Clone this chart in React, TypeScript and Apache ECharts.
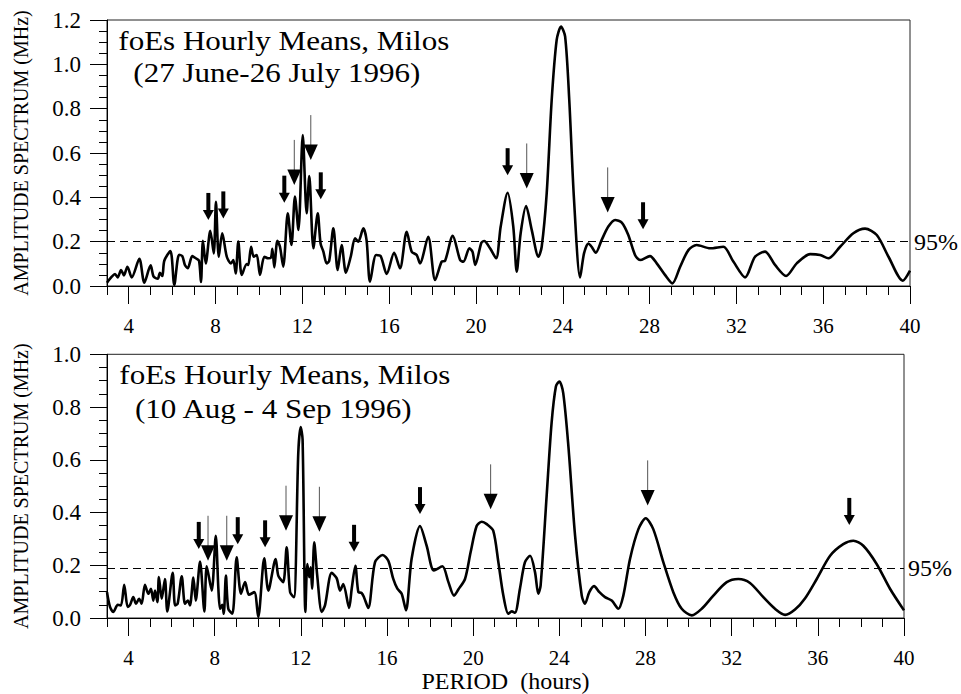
import React, { useEffect, useRef } from "react";
import * as echarts from "echarts";

// ---------- data ----------
const xMajorTicks = [4, 8, 12, 16, 20, 24, 28, 32, 36, 40];
const xMinorTicks = [3, 4, 5, 6, 7, 8, 9, 10, 11, 12, 13, 14, 15, 16, 17, 18, 19, 20, 21, 22, 23, 24, 25, 26, 27, 28, 29, 30, 31, 32, 33, 34, 35, 36, 37, 38, 39, 40];

const topTitle = ["foEs Hourly Means, Milos", "(27 June-26 July 1996)"];
const bottomTitle = ["foEs Hourly Means, Milos", "(10 Aug - 4 Sep 1996)"];
const yAxisName = "AMPLITUDE SPECTRUM (MHz)";
const xAxisName = "PERIOD  (hours)";
const confidenceLabel = "95%";
const confidenceLevels = [0.2, 0.193];
const yMax = [1.2, 1.0];

// [period (h), amplitude (MHz)]
const topSpectrum: [number, number][] = [
  [3.0, 0.015], [3.22, 0.042], [3.37, 0.054], [3.49, 0.039], [3.65, 0.072], [3.78, 0.048], [3.94, 0.087],
  [4.14, 0.039], [4.49, 0.123], [4.72, 0.015], [5.01, 0.093], [5.15, 0.042], [5.34, 0.033], [5.44, 0.06],
  [5.55, 0.045], [5.64, 0.114], [5.92, 0.158], [6.1, 0.005], [6.32, 0.141], [6.47, 0.135], [6.59, 0.095],
  [6.72, 0.08], [6.93, 0.135], [7.09, 0.125], [7.24, 0.114], [7.33, 0.018], [7.42, 0.204], [7.55, 0.102],
  [7.76, 0.249], [7.92, 0.147], [8.02, 0.38], [8.15, 0.132], [8.31, 0.238], [8.52, 0.132], [8.71, 0.102],
  [8.82, 0.117], [8.93, 0.057], [9.05, 0.2], [9.21, 0.05], [9.44, 0.099], [9.51, 0.095], [9.64, 0.177],
  [9.76, 0.132], [9.9, 0.14], [10.05, 0.05], [10.25, 0.132], [10.43, 0.125], [10.56, 0.129], [10.62, 0.168],
  [10.71, 0.084], [10.85, 0.204], [10.97, 0.177], [11.12, 0.087], [11.33, 0.328], [11.5, 0.185], [11.66, 0.403],
  [11.82, 0.253], [12.02, 0.681], [12.2, 0.328], [12.32, 0.496], [12.51, 0.17], [12.71, 0.328], [12.84, 0.192],
  [12.97, 0.155], [13.12, 0.102], [13.24, 0.114], [13.43, 0.26], [13.63, 0.072], [13.81, 0.185], [14.01, 0.06],
  [14.23, 0.132], [14.43, 0.215], [14.58, 0.2], [14.81, 0.26], [14.96, 0.207], [15.12, 0.019], [15.4, 0.14],
  [15.61, 0.135], [15.89, 0.054], [16.23, 0.15], [16.5, 0.08], [16.81, 0.245], [17.04, 0.155], [17.27, 0.14],
  [17.42, 0.102], [17.8, 0.222], [18.12, 0.027], [18.42, 0.11], [18.58, 0.114], [18.93, 0.226], [19.27, 0.117],
  [19.42, 0.11], [19.7, 0.17], [19.84, 0.155], [19.97, 0.095], [20.25, 0.195], [20.38, 0.203], [20.65, 0.17],
  [20.93, 0.125], [21.14, 0.268], [21.46, 0.421], [21.72, 0.268], [21.88, 0.065], [22.06, 0.238], [22.31, 0.361],
  [22.57, 0.253], [22.88, 0.132], [23.03, 0.177], [23.26, 0.418], [23.49, 0.839], [23.72, 1.11], [23.92, 1.17],
  [24.11, 1.125], [24.3, 0.839], [24.52, 0.388], [24.8, 0.039], [24.98, 0.147], [25.18, 0.192], [25.33, 0.177],
  [25.52, 0.15], [25.79, 0.207], [26.1, 0.268], [26.41, 0.298], [26.72, 0.286], [27.02, 0.23], [27.33, 0.14],
  [27.56, 0.117], [28.02, 0.135], [28.33, 0.102], [28.71, 0.05], [29.05, 0.012], [29.41, 0.087], [29.79, 0.162],
  [30.17, 0.185], [30.79, 0.17], [31.4, 0.177], [31.86, 0.11], [32.4, 0.039], [32.86, 0.132], [33.32, 0.155],
  [33.78, 0.095], [34.29, 0.045], [34.78, 0.102], [35.4, 0.144], [35.86, 0.14], [36.24, 0.125], [36.78, 0.177],
  [37.39, 0.238], [37.93, 0.259], [38.47, 0.23], [39.01, 0.132], [39.67, 0.024], [40.0, 0.069],
];

const bottomSpectrum: [number, number][] = [
  [3.0, 0.098], [3.14, 0.042], [3.29, 0.023], [3.5, 0.05], [3.65, 0.048], [3.8, 0.126], [3.96, 0.042],
  [4.07, 0.05], [4.22, 0.079], [4.35, 0.054], [4.49, 0.073], [4.61, 0.054], [4.76, 0.126], [4.92, 0.092],
  [5.04, 0.111], [5.15, 0.066], [5.23, 0.104], [5.34, 0.06], [5.41, 0.155], [5.54, 0.073], [5.69, 0.148],
  [5.8, 0.025], [6.05, 0.171], [6.16, 0.048], [6.28, 0.054], [6.47, 0.158], [6.62, 0.054], [6.75, 0.066],
  [6.85, 0.048], [7.01, 0.153], [7.12, 0.066], [7.32, 0.214], [7.52, 0.025], [7.63, 0.196], [7.86, 0.104],
  [8.05, 0.312], [8.17, 0.111], [8.25, 0.035], [8.35, 0.05], [8.42, 0.016], [8.52, 0.161], [8.63, 0.035],
  [8.82, 0.016], [9.02, 0.23], [9.22, 0.092], [9.41, 0.136], [9.59, 0.088], [9.84, 0.098], [10.02, 0.004],
  [10.3, 0.226], [10.49, 0.104], [10.83, 0.224], [10.95, 0.161], [11.18, 0.136], [11.34, 0.268], [11.5, 0.098],
  [11.68, 0.079], [11.88, 0.626], [11.99, 0.724], [12.08, 0.677], [12.21, 0.023], [12.3, 0.205], [12.39, 0.155],
  [12.46, 0.192], [12.52, 0.111], [12.62, 0.287], [12.76, 0.161], [12.97, 0.023], [13.12, 0.048], [13.43, 0.171],
  [13.66, 0.151], [13.82, 0.104], [13.97, 0.129], [14.24, 0.038], [14.36, 0.111], [14.53, 0.198], [14.67, 0.098],
  [14.82, 0.095], [14.93, 0.079], [15.13, 0.038], [15.44, 0.211], [15.8, 0.239], [16.06, 0.217], [16.29, 0.148],
  [16.48, 0.111], [16.68, 0.092], [16.88, 0.029], [17.14, 0.224], [17.53, 0.349], [17.84, 0.274], [18.18, 0.18],
  [18.57, 0.196], [18.85, 0.136], [19.11, 0.085], [19.31, 0.108], [19.62, 0.148], [19.88, 0.249], [20.16, 0.349],
  [20.4, 0.365], [20.63, 0.356], [20.93, 0.331], [21.17, 0.211], [21.4, 0.085], [21.63, 0.016], [21.79, 0.025],
  [21.94, 0.02], [22.17, 0.111], [22.4, 0.211], [22.64, 0.236], [22.87, 0.174], [23.02, 0.092], [23.13, 0.123],
  [23.41, 0.463], [23.64, 0.74], [23.84, 0.878], [24.0, 0.897], [24.18, 0.853], [24.42, 0.651], [24.73, 0.312],
  [25.04, 0.085], [25.19, 0.054], [25.39, 0.098], [25.61, 0.121], [25.86, 0.098], [26.12, 0.079], [26.43, 0.066],
  [26.74, 0.035], [26.97, 0.085], [27.28, 0.224], [27.67, 0.337], [28.01, 0.378], [28.36, 0.337], [28.83, 0.211],
  [29.29, 0.098], [29.68, 0.035], [30.15, 0.01], [30.61, 0.035], [31.15, 0.085], [31.77, 0.136], [32.31, 0.148],
  [32.85, 0.133], [33.47, 0.079], [34.01, 0.035], [34.48, 0.012], [34.94, 0.032], [35.41, 0.075], [35.95, 0.148],
  [36.57, 0.236], [37.18, 0.28], [37.65, 0.293], [38.11, 0.274], [38.73, 0.205], [39.35, 0.111], [40.0, 0.029],
];

// [period, amplitude at arrow tip, kind: 0 = thick short, 1 = thin long]
const topArrows: [number, number, number][] = [
  [7.67, 0.298, 0], [8.36, 0.305, 0], [11.17, 0.376, 0], [11.63, 0.456, 1], [12.39, 0.568, 1],
  [12.85, 0.391, 0], [21.46, 0.5, 0], [22.34, 0.44, 1], [26.07, 0.332, 1], [27.7, 0.256, 0],
];
const bottomArrows: [number, number, number][] = [
  [7.26, 0.262, 0], [7.69, 0.217, 1], [8.56, 0.217, 1], [9.07, 0.28, 0], [10.34, 0.268, 0],
  [11.31, 0.331, 1], [12.86, 0.327, 1], [14.47, 0.251, 0], [17.53, 0.394, 0], [20.81, 0.412, 1],
  [28.1, 0.427, 1], [37.46, 0.353, 0],
];

// ---------- styling ----------
const FONT = '"Liberation Serif", "Times New Roman", serif';
const BLACK = "#000";

function arrowRender(params: any, api: any) {
  const p = api.coord([api.value(0), api.value(1)]);
  const kind = api.value(2);
  const x = p[0];
  const y = p[1];
  if (kind === 1) {
    return {
      type: "group",
      children: [
        { type: "line", shape: { x1: x, y1: y - 45, x2: x, y2: y - 14 }, style: { stroke: "#555", lineWidth: 1 } },
        { type: "polygon", shape: { points: [[x - 7, y - 15.5], [x + 7, y - 15.5], [x, y]] }, style: { fill: BLACK } },
      ],
    };
  }
  return {
    type: "group",
    children: [
      { type: "rect", shape: { x: x - 2, y: y - 27, width: 4, height: 18 }, style: { fill: BLACK } },
      { type: "polygon", shape: { points: [[x - 5.5, y - 10], [x + 5.5, y - 10], [x, y]] }, style: { fill: BLACK } },
    ],
  };
}

function makeXAxes(gridIndex: number, withName: boolean) {
  return [
    {
      type: "value",
      gridIndex,
      min: 3,
      max: 40,
      position: "bottom",
      axisLine: { show: true, onZero: false, lineStyle: { color: BLACK, width: 1 } },
      axisTick: { show: true, customValues: xMajorTicks, length: 18, lineStyle: { color: BLACK, width: 1 } },
      axisLabel: { customValues: xMajorTicks, margin: 29, color: BLACK, fontFamily: FONT, fontSize: 21 },
      splitLine: { show: false },
      name: withName ? xAxisName : "",
      nameLocation: "middle",
      nameGap: 51,
      nameTextStyle: { color: BLACK, fontFamily: FONT, fontSize: 24 },
    },
    {
      type: "value",
      gridIndex,
      min: 3,
      max: 40,
      position: "bottom",
      axisLine: { show: false },
      axisTick: { show: true, customValues: xMinorTicks, length: 9, lineStyle: { color: BLACK, width: 1 } },
      axisLabel: { show: false },
      splitLine: { show: false },
    },
  ];
}

function makeYAxis(gridIndex: number, max: number) {
  return {
    type: "value",
    gridIndex,
    min: 0,
    max,
    interval: 0.2,
    axisLine: { show: true, onZero: false, lineStyle: { color: BLACK, width: 1 } },
    axisTick: { show: true, length: 17, lineStyle: { color: BLACK, width: 1 } },
    minorTick: { show: true, splitNumber: 4, length: 8, lineStyle: { color: BLACK, width: 1 } },
    axisLabel: {
      margin: 26,
      color: BLACK,
      fontFamily: FONT,
      fontSize: 23,
      formatter: (v: number) => v.toFixed(1),
    },
    splitLine: { show: false },
    minorSplitLine: { show: false },
    name: yAxisName,
    nameLocation: "middle",
    nameGap: 76,
    nameRotate: 90,
    nameTextStyle: { color: BLACK, fontFamily: FONT, fontSize: 20 },
  };
}

function spectrumSeries(data: [number, number][], axisIdx: number, yIdx: number, level: number) {
  return {
    type: "line",
    xAxisIndex: axisIdx,
    yAxisIndex: yIdx,
    data,
    smooth: 0.28,
    symbol: "none",
    showSymbol: false,
    lineStyle: { color: BLACK, width: 2.6 },
    markLine: {
      silent: true,
      symbol: ["none", "none"],
      data: [{ yAxis: level }],
      lineStyle: { color: BLACK, type: [8, 5], width: 1 },
      label: { show: true, position: "end", formatter: confidenceLabel, color: BLACK, fontFamily: FONT, fontSize: 24, distance: 4 },
    },
  };
}

function arrowSeries(data: [number, number, number][], axisIdx: number, yIdx: number) {
  return {
    type: "custom",
    xAxisIndex: axisIdx,
    yAxisIndex: yIdx,
    data,
    encode: { x: 0, y: 1 },
    renderItem: arrowRender,
    silent: true,
    z: 5,
  };
}

function titleText(lines: string[], x1: number, y1: number, x2: number, y2: number) {
  const style = (t: string) => ({ text: t, x: 0, y: 0, fill: BLACK, font: `27px ${FONT}`, verticalAlign: "middle", align: "left" });
  return [
    { type: "text", x: x1, y: y1, scaleX: 1.15, style: style(lines[0]), silent: true },
    { type: "text", x: x2, y: y2, scaleX: 1.15, style: style(lines[1]), silent: true },
  ];
}

export default function App() {
  const ref = useRef<HTMLDivElement>(null);
  useEffect(() => {
    if (!ref.current) return;
    const chart = echarts.init(ref.current, undefined, { renderer: "svg" });
    const option: any = {
      animation: false,
      backgroundColor: "#fff",
      grid: [
        { left: 107, top: 20, width: 803, height: 266, show: true, borderColor: "#222", borderWidth: 1, backgroundColor: "transparent" },
        { left: 107, top: 354.3, width: 797, height: 265, show: true, borderColor: "#222", borderWidth: 1, backgroundColor: "transparent" },
      ],
      xAxis: [...makeXAxes(0, false), ...makeXAxes(1, true)],
      yAxis: [makeYAxis(0, yMax[0]), makeYAxis(1, yMax[1])],
      series: [
        spectrumSeries(topSpectrum, 0, 0, confidenceLevels[0]),
        arrowSeries(topArrows, 0, 0),
        spectrumSeries(bottomSpectrum, 2, 1, confidenceLevels[1]),
        arrowSeries(bottomArrows, 2, 1),
      ],
      graphic: [
        ...titleText(topTitle, 118.3, 40.3, 133.3, 73),
        ...titleText(bottomTitle, 119.3, 374.3, 135, 408.3),
      ],
    };
    chart.setOption(option);
    return () => chart.dispose();
  }, []);
  return (
    <div
      ref={ref}
      style={{ position: "fixed", left: 0, top: 0, width: 961, height: 694, background: "#fff" }}
    />
  );
}
